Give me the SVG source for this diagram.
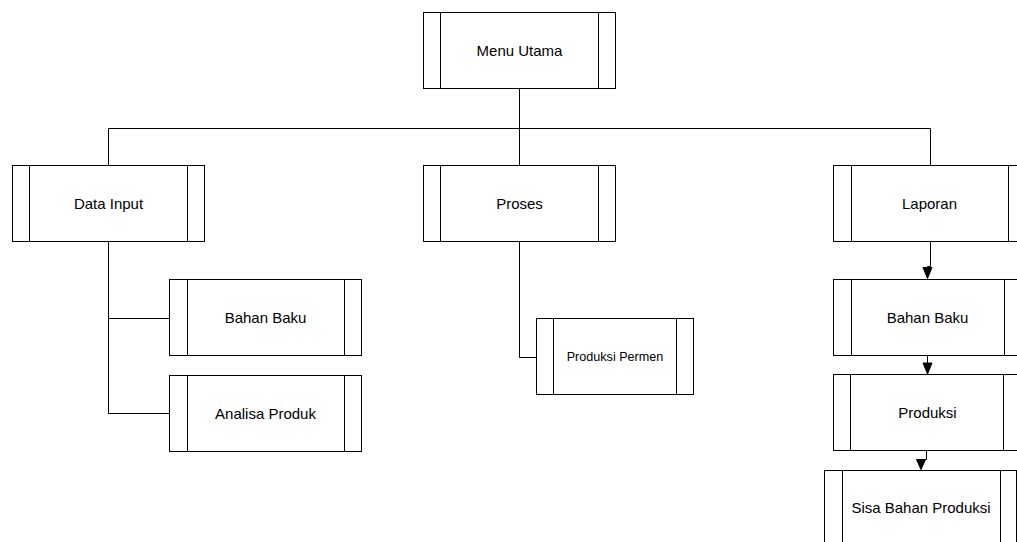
<svg xmlns="http://www.w3.org/2000/svg" width="1017" height="542" viewBox="0 0 1017 542">
<style>
.box{fill:#fff;stroke:#000;stroke-width:1}
.div{stroke:#000;stroke-width:1}
.lbl{font-family:"Liberation Sans",Arial,sans-serif;font-size:15px;fill:#000;text-anchor:middle}
.sm{font-size:12.6px}
.con{fill:none;stroke:#000;stroke-width:1}
.ah{fill:#000;stroke:#000;stroke-width:1}
</style>
<rect width="1017" height="542" fill="#fff"/>
<g id="connectors">
<path class="con" d="M519.5 89 V128.5"/>
<path class="con" d="M108.5 165 V128.5 H930.5 V165.5"/>
<path class="con" d="M519.5 128.5 V165.5"/>
<path class="con" d="M108.5 241 V413.5 H169.5"/>
<path class="con" d="M108.5 318.5 H169.5"/>
<path class="con" d="M519.5 241.5 V357.5 H536.5"/>
<path class="con" d="M930.5 241.5 V266.5 H927.5 V268"/>
<polygon class="ah" points="923,267.5 932,267.5 927.5,278.5"/>
<path class="con" d="M927.5 355.5 V363"/>
<polygon class="ah" points="923,363 932,363 927.5,374"/>
<path class="con" d="M926.5 450.5 V459.5 H921 V460"/>
<polygon class="ah" points="916.5,459.5 925.5,459.5 921,469.5"/>
</g>
<g id="menu-utama">
<rect class="box" x="423.5" y="12.5" width="192" height="76"/>
<line class="div" x1="440.5" y1="12.5" x2="440.5" y2="88.5"/>
<line class="div" x1="598.5" y1="12.5" x2="598.5" y2="88.5"/>
<text class="lbl" x="519.5" y="56">Menu Utama</text>
</g>
<g id="data-input">
<rect class="box" x="12.5" y="165.5" width="192" height="76"/>
<line class="div" x1="29.5" y1="165.5" x2="29.5" y2="241.5"/>
<line class="div" x1="187.5" y1="165.5" x2="187.5" y2="241.5"/>
<text class="lbl" x="108.5" y="208.5">Data Input</text>
</g>
<g id="proses">
<rect class="box" x="423.5" y="165.5" width="192" height="76"/>
<line class="div" x1="440.5" y1="165.5" x2="440.5" y2="241.5"/>
<line class="div" x1="598.5" y1="165.5" x2="598.5" y2="241.5"/>
<text class="lbl" x="519.5" y="208.5">Proses</text>
</g>
<g id="laporan">
<rect class="box" x="833.5" y="165.5" width="192" height="76"/>
<line class="div" x1="851.5" y1="165.5" x2="851.5" y2="241.5"/>
<line class="div" x1="1008.5" y1="165.5" x2="1008.5" y2="241.5"/>
<text class="lbl" x="929.5" y="208.5">Laporan</text>
</g>
<g id="bahan-baku-input">
<rect class="box" x="169.5" y="279.5" width="192" height="76"/>
<line class="div" x1="187.5" y1="279.5" x2="187.5" y2="355.5"/>
<line class="div" x1="344.5" y1="279.5" x2="344.5" y2="355.5"/>
<text class="lbl" x="265.5" y="323">Bahan Baku</text>
</g>
<g id="analisa-produk">
<rect class="box" x="169.5" y="375.5" width="192" height="76"/>
<line class="div" x1="187.5" y1="375.5" x2="187.5" y2="451.5"/>
<line class="div" x1="344.5" y1="375.5" x2="344.5" y2="451.5"/>
<text class="lbl" x="265.5" y="418.5">Analisa Produk</text>
</g>
<g id="produksi-permen">
<rect class="box" x="536.5" y="318.5" width="157" height="76"/>
<line class="div" x1="553.5" y1="318.5" x2="553.5" y2="394.5"/>
<line class="div" x1="676.5" y1="318.5" x2="676.5" y2="394.5"/>
<text class="lbl sm" x="615" y="361">Produksi Permen</text>
</g>
<g id="bahan-baku-laporan">
<rect class="box" x="833.5" y="279.5" width="188" height="76"/>
<line class="div" x1="851.5" y1="279.5" x2="851.5" y2="355.5"/>
<line class="div" x1="1004.5" y1="279.5" x2="1004.5" y2="355.5"/>
<text class="lbl" x="927.5" y="323">Bahan Baku</text>
</g>
<g id="produksi">
<rect class="box" x="833.5" y="374.5" width="188" height="76"/>
<line class="div" x1="850.5" y1="374.5" x2="850.5" y2="450.5"/>
<line class="div" x1="1003.5" y1="374.5" x2="1003.5" y2="450.5"/>
<text class="lbl" x="927.5" y="418">Produksi</text>
</g>
<g id="sisa-bahan-produksi">
<rect class="box" x="824.5" y="470.5" width="192" height="76"/>
<line class="div" x1="842.5" y1="470.5" x2="842.5" y2="546.5"/>
<line class="div" x1="1000.5" y1="470.5" x2="1000.5" y2="546.5"/>
<text class="lbl" x="921" y="513">Sisa Bahan Produksi</text>
</g>
</svg>
